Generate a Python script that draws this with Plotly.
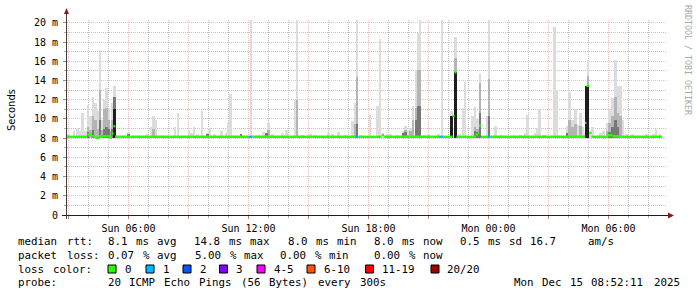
import re
import plotly.graph_objects as go

# ------------------------------------------------------------------ data
# time in hours since Sun 00:00
x_range = [2.925, 32.925]
xtick_vals = [6, 12, 18, 24, 30]
xtick_text = ["Sun 06:00", "Sun 12:00", "Sun 18:00", "Mon 00:00", "Mon 06:00"]
xgrid_extra = [3, 9, 15, 21, 27]          # 3-hourly major grid without label
ytick_vals = [0, 2, 4, 6, 8, 10, 12, 14, 16, 18, 20]
ytick_text = ["0", "2 m", "4 m", "6 m", "8 m", "10 m", "12 m", "14 m", "16 m", "18 m", "20 m"]
y_top = 20.3

# smoke (ms): per sample time, top of lightest / mid / dark / black layer
smoke_floor = 8.0
smoke_t = [3.00, 3.28, 3.45, 3.58, 3.70, 3.85, 3.98, 4.10, 4.23, 4.35, 4.45, 4.57, 4.68, 4.78, 4.90, 5.00,
           5.10, 5.20, 5.30, 6.00, 6.93, 7.12, 7.25, 7.35, 8.33, 8.47, 9.03, 9.15, 9.28, 9.45, 9.68, 9.95,
           10.06, 10.30, 10.66, 10.90, 11.00, 11.09, 11.63, 12.12, 12.50, 12.75, 12.90, 13.00, 13.20, 13.70,
           13.90, 14.35, 14.43, 14.70, 15.10, 15.35, 16.00, 16.20, 16.50, 16.85, 17.20, 17.33, 17.42, 17.65,
           18.08, 18.46, 18.57, 18.95, 19.10, 19.45, 19.73, 19.86, 19.98, 20.10, 20.235, 20.37, 20.48, 20.57,
           20.80, 21.00, 21.50, 21.68, 22.16, 22.35, 22.55, 22.72, 22.83, 23.20, 23.33, 23.46, 23.57, 23.93,
           24.02, 24.35, 24.60, 25.60, 25.85, 25.95, 26.35, 26.43, 26.56, 26.80, 27.30, 27.43, 27.93, 28.06,
           28.20, 28.35, 28.47, 28.59, 28.70, 28.80, 28.87, 28.97, 29.09, 29.20, 29.50, 29.60, 29.74, 29.94,
           30.05, 30.20, 30.35, 30.47, 30.60, 30.73, 30.90, 31.20, 31.90, 32.25, 32.38, 32.55]
smoke_max = [8.4, 8.7, 9.1, 8.7, 10.6, 8.7, 11.5, 10.3, 12.3, 11.7, 10.8, 17.2, 9.9, 12.0, 13.2, 11.1,
             9.2, 11.7, 13.4, 8.6, 8.4, 9.2, 10.3, 9.9, 9.2, 10.6, 8.9, 8.55, 9.2, 8.4, 10.8, 8.55,
             9.1, 8.4, 8.7, 8.55, 9.6, 12.6, 8.4, 20.3, 8.3, 8.6, 8.55, 9.6, 8.4, 8.5,
             8.9, 12.0, 20.3, 8.3, 8.4, 8.3, 8.55, 8.45, 8.6, 8.3, 9.8, 11.7, 20.3, 8.35,
             10.4, 11.3, 18.3, 8.4, 8.4, 8.3, 8.7, 9.3, 8.9, 9.1, 11.3, 15.1, 18.9, 20.3,
             8.3, 8.4, 8.4, 20.3, 10.8, 18.5, 8.4, 11.1, 13.8, 10.3, 11.2, 10.0, 14.7, 10.3,
             20.3, 9.3, 8.3, 8.3, 8.55, 10.4, 8.55, 9.1, 11.0, 8.3, 19.6, 13.0, 9.3, 12.8,
             9.9, 11.0, 9.4, 10.6, 9.2, 8.55, 13.45, 16.1, 8.55, 9.2, 8.3, 8.55, 8.7, 9.6,
             11.0, 12.2, 16.1, 13.4, 13.4, 9.9, 8.4, 8.4, 8.4, 8.4, 9.0, 8.4]
N = None
smoke_mid = [N, N, N, N, N, N, 9.2, 8.9, 10.3, 9.9, 9.0, 13.0, 8.9, 11.0, 11.1, 9.9,
             8.7, 9.9, 12.3, N, N, N, 9.0, N, N, N, N, N, N, N, N, N,
             N, N, N, N, N, N, N, N, N, N, N, 8.9, N, N,
             N, N, 12.0, N, N, N, N, N, N, N, N, 9.5, 14.4, N,
             N, N, N, N, N, N, N, 8.9, N, 8.7, 9.9, 11.1, 15.1, 15.1,
             N, N, N, N, N, 16.3, N, N, N, N, 9.2, 9.0, 13.7, N,
             14.2, N, N, N, N, N, N, N, N, N, N, N, N, 9.9,
             9.2, 9.5, N, 9.3, N, N, N, 14.5, N, N, N, N, N, 8.7,
             9.6, 10.3, 12.3, 10.6, 10.3, N, N, N, N, N, N, N]
smoke_dark = [N, N, N, N, N, N, 8.6, N, 8.8, N, N, 9.9, N, 9.0, 9.2, 9.0,
              N, 9.0, 12.3, 8.4, N, N, N, N, N, N, N, N, N, N, N, 8.4,
              N, N, N, N, N, N, 8.4, N, N, N, 8.5, N, N, N,
              N, N, N, N, N, N, N, N, N, N, N, N, 9.5, N,
              N, N, N, N, N, N, 8.5, 8.6, N, N, N, 9.9, 11.3, 11.3,
              N, N, N, N, N, N, N, N, N, N, 8.7, 8.6, 10.6, N,
              10.3, N, N, N, N, N, N, N, N, N, N, N, 8.55, N,
              N, N, N, N, N, N, N, N, N, N, N, N, N, N,
              8.6, 9.2, 9.9, 9.2, N, N, N, N, N, N, N, N]
smoke_black = [N, N, N, N, N, N, N, N, N, N, N, N, N, N, N, N,
               N, N, 11.0, N, N, N, N, N, N, N, N, N, N, N, N, N,
               N, N, N, N, N, N, N, N, N, N, N, N, N, N,
               N, N, N, N, N, N, N, N, N, N, N, N, N, N,
               N, N, N, N, N, N, N, N, N, N, N, N, N, N,
               N, N, N, N, 10.3, 14.86, N, N, N, N, N, N, N, N,
               N, N, N, N, N, N, N, N, N, N, N, N, N, N,
               N, N, N, N, N, N, 13.45, 13.45, N, N, N, N, N, N,
               N, N, N, N, N, N, N, N, N, N, N, N]

# median rtt (ms): step segments starting at median_t, with packet loss count
median_t = [2.925, 3.95, 4.12, 4.33, 4.53, 5.07, 5.17, 5.25, 5.33, 12.0, 12.2, 17.33, 17.5, 18.66, 18.78,
            21.53, 21.73, 22.2, 22.3, 22.4, 23.37, 23.47, 23.53, 23.62, 23.97, 24.1, 28.83, 28.9, 29.03,
            29.15, 29.95, 30.2, 30.6]
median_v = [8.14, 8.38, 8.2, 8.03, 8.2, 8.05, 8.5, 9.24, 8.14, 8.14, 8.14, 8.14, 8.14, 8.35, 8.14,
            8.14, 8.14, 10.3, 14.86, 8.14, 8.38, 8.55, 9.31, 8.14, 8.14, 8.14, 9.59, 13.45, 8.55,
            8.14, 8.3, 8.2, 8.14]
median_loss = [0, 0, 0, 0, 0, 0, 0, 0, 0, 1, 0, 1, 0, 0, 0,
               1, 0, 0, 0, 0, 0, 0, 0, 0, 1, 0, 0, 0, 0,
               0, 0, 0, 0]
median_end = 32.67

# legend / statistics
rtt_avg, rtt_max, rtt_min, rtt_now, rtt_sd, rtt_ams = 8.1, 14.8, 8.0, 8.0, 0.5, 16.7
loss_avg, loss_max, loss_min, loss_now = 0.07, 5.00, 0.00, 0.00
loss_labels = ["0", "1", "2", "3", "4-5", "6-10", "11-19", "20/20"]
loss_colors = ["#26ff00", "#00b8ff", "#0059ff", "#7e00ff", "#ff00ff", "#ff5500", "#ff0000", "#a10000"]
probe_text = "20 ICMP Echo Pings (56 Bytes) every 300s"
stamp_text = "Mon Dec 15 08:52:11 2025"
watermark = "RRDTOOL / TOBI OETIKER"

# ------------------------------------------------------------------ layout helpers
L, T, W, H = 67, 20, 600, 195
FIGW, FIGH = 697, 297


def px(x):
    return (x - L) / W


def py(y):
    return (T + H - y) / H


MONO = "DejaVu Sans Mono"
fig = go.Figure()

# smoke layers
layers = [(smoke_max, "#dcdcdc"), (smoke_mid, "#b4b4b4"), (smoke_dark, "#787878"), (smoke_black, "#1e1e1e")]
for vals, col in layers:
    xs = [t for t, v in zip(smoke_t, vals) if v is not None]
    hs = [v - smoke_floor for v in vals if v is not None]
    fig.add_trace(go.Bar(x=xs, y=hs, base=smoke_floor, width=0.125,
                         marker=dict(color=col, line=dict(width=0)), hoverinfo="skip"))

# median line, coloured by loss
ends = median_t[1:] + [median_end]
for loss_val, col in [(0, loss_colors[0]), (1, loss_colors[1])]:
    xs, ys = [], []
    for t0, t1, v, lo in zip(median_t, ends, median_v, median_loss):
        if lo == loss_val:
            xs += [t0, t1, None]
            ys += [v, v, None]
    fig.add_trace(go.Scatter(x=xs, y=ys, mode="lines", line=dict(color=col, width=2.4),
                             hoverinfo="skip", connectgaps=False))

grid_major = "rgba(225,80,70,0.38)"
grid_minor = "rgba(110,110,110,0.42)"

x_ticks = sorted(xtick_vals + xgrid_extra)
x_text = [xtick_text[xtick_vals.index(v)] if v in xtick_vals else "" for v in x_ticks]
x_minor = [h for h in range(3, 33) if h not in x_ticks]
y_minor = [v for v in range(1, 21) if v not in ytick_vals]

fig.update_xaxes(range=x_range, tickmode="array", tickvals=x_ticks, ticktext=x_text,
                 showgrid=True, gridcolor=grid_major, griddash="1px,1px", gridwidth=1,
                 ticks="outside", ticklen=3, tickcolor="#c08080", showline=False, zeroline=False,
                 tickfont=dict(family=MONO, size=10, color="#000000"), ticklabelstandoff=1,
                 minor=dict(tickmode="array", tickvals=x_minor, showgrid=True, gridcolor=grid_minor,
                            griddash="1px,1px", ticks="outside", ticklen=2, tickcolor="#b0b0b0"),
                 fixedrange=True)
fig.update_yaxes(range=[0, y_top], tickmode="array", tickvals=ytick_vals, ticktext=ytick_text,
                 showgrid=True, gridcolor=grid_major, griddash="1px,1px", gridwidth=1,
                 ticks="outside", ticklen=3, tickcolor="#c08080", showline=False, zeroline=False,
                 tickfont=dict(family=MONO, size=10, color="#000000"), ticklabelstandoff=3,
                 minor=dict(tickmode="array", tickvals=y_minor, showgrid=True, gridcolor=grid_minor,
                            griddash="1px,1px", ticks="outside", ticklen=2, tickcolor="#b0b0b0"),
                 fixedrange=True)

shapes = []
# axes with arrows
shapes.append(dict(type="line", xref="paper", yref="paper", x0=px(62), x1=px(668), y0=py(215.5), y1=py(215.5),
                   line=dict(color="#202020", width=1)))
shapes.append(dict(type="path", xref="paper", yref="paper",
                   path=f"M {px(668)},{py(212.5)} L {px(674)},{py(215.5)} L {px(668)},{py(218.5)} Z",
                   fillcolor="#7f1f1f", line=dict(width=0)))
shapes.append(dict(type="line", xref="paper", yref="paper", x0=px(66.5), x1=px(66.5), y0=py(219), y1=py(13),
                   line=dict(color="#404040", width=1)))
shapes.append(dict(type="path", xref="paper", yref="paper",
                   path=f"M {px(64)},{py(14)} L {px(66.5)},{py(8)} L {px(69)},{py(14)} Z",
                   fillcolor="#7f1f1f", line=dict(width=0)))

annotations = []


def add_words(x0, y0, s, size=10.8, cw=7.0, color="#000000"):
    for m in re.finditer(r"\S+", s):
        annotations.append(dict(xref="paper", yref="paper", x=px(x0 + m.start() * cw), y=py(y0),
                                xanchor="left", yanchor="middle", text=m.group(), showarrow=False,
                                borderpad=0, font=dict(family=MONO, size=size, color=color)))


# legend line 1
row1 = 241
add_words(16.7, row1, "median rtt:")
add_words(107, row1, f"{rtt_avg:.1f} ms avg")
add_words(192.7, row1, f"{rtt_max:.1f} ms max")
add_words(286.7, row1, f"{rtt_min:.1f} ms min")
add_words(372.7, row1, f"{rtt_now:.1f} ms now")
add_words(459.3, row1, f"{rtt_sd:.1f} ms sd")
add_words(529.3, row1, f"{rtt_ams:.1f}")
add_words(586.7, row1, "am/s")
# line 2
row2 = 255
add_words(16.7, row2, "packet loss:")
add_words(107, row2, f"{loss_avg:.2f} % avg")
add_words(194, row2, f"{loss_max:.2f} % max")
add_words(279.3, row2, f"{loss_min:.2f} % min")
add_words(373.3, row2, f"{loss_now:.2f} % now")
# line 3
row3 = 269
add_words(16.7, row3, "loss color:")
box_x = [108, 146, 183, 219.5, 257, 307, 365.5, 431]
for bx, lab, col in zip(box_x, loss_labels, loss_colors):
    shapes.append(dict(type="rect", xref="paper", yref="paper", x0=px(bx), x1=px(bx + 8),
                       y0=py(row3 - 4), y1=py(row3 + 4), fillcolor=col, line=dict(color="#000000", width=1)))
    add_words(bx + 15.5, row3, lab)
# line 4
row4 = 282
add_words(16.7, row4, "probe:")
add_words(107, row4, probe_text)
add_words(513.3, row4, stamp_text)

# axis title
annotations.append(dict(xref="paper", yref="paper", x=px(11), y=py(110), text="Seconds", textangle=-90,
                        showarrow=False, xanchor="center", yanchor="middle",
                        font=dict(family="DejaVu Sans", size=10, color="#000000")))
# watermark
annotations.append(dict(xref="paper", yref="paper", x=px(688), y=py(60), text=watermark, textangle=90,
                        showarrow=False, xanchor="center", yanchor="middle",
                        font=dict(family=MONO, size=8.3, color="#a8a8a8")))

fig.update_layout(width=FIGW, height=FIGH, autosize=False,
                  margin=dict(l=L, r=FIGW - L - W, t=T, b=FIGH - T - H, pad=0),
                  paper_bgcolor="#ffffff", plot_bgcolor="#ffffff", showlegend=False,
                  barmode="overlay", bargap=0, shapes=shapes, annotations=annotations)

fig.write_html("out.html")
